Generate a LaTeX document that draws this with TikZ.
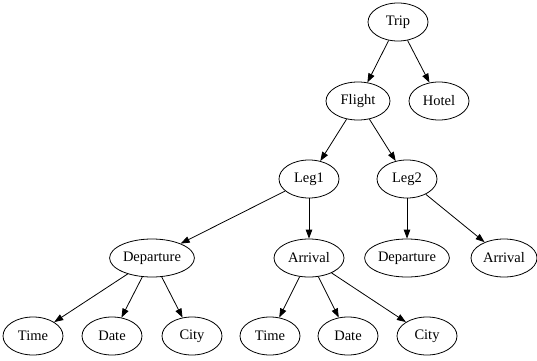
\documentclass[tikz,border=0pt]{standalone}
\usepackage{fontspec}
\setmainfont{Liberation Serif}
\usetikzlibrary{arrows.meta,shapes.geometric}

\begin{document}
\begin{tikzpicture}[
    x=1pt, y=1pt,
    >={Triangle[length=9pt,width=6.5pt]},
    every node/.style={font=\fontsize{14.5}{16}\selectfont},
    treenode/.style={
        ellipse,
        draw=black,
        line width=0.8pt,
        inner xsep=1pt,
        inner ysep=0pt,
        minimum width=60pt,
        minimum height=38pt,
    },
    arr/.style={->,line width=0.8pt,color=black},
]
\useasboundingbox (0,0) rectangle (537,360);

% === Top ===
\node[treenode] (trip) at (398,338) {Trip};
\node[treenode,minimum width=64pt] (flight) at (358,259) {Flight};
\node[treenode] (hotel) at (439,259) {Hotel};

% === Legs ===
\node[treenode] (leg1) at (309,181) {Leg1};
\node[treenode] (leg2) at (407,181) {Leg2};

% === Leg1 children ===
\node[treenode] (dep1) at (152,102) {Departure};
\node[treenode,minimum width=70pt] (arr1) at (309,102) {Arrival};

% === Leg2 children ===
\node[treenode] (dep2) at (407,102) {Departure};
\node[treenode,minimum width=66pt] (arr2) at (504,102) {Arrival};

% === Bottom row ===
\node[treenode] (time1) at (33,24) {Time};
\node[treenode] (date1) at (112,24) {Date};
\node[treenode] (city1) at (192,24) {City};
\node[treenode] (time2) at (270,24) {Time};
\node[treenode] (date2) at (348,24) {Date};
\node[treenode] (city2) at (427,24) {City};

% === Edges ===
\draw[arr] (trip) -- (flight);
\draw[arr] (trip) -- (hotel);
\draw[arr] (flight) -- (leg1);
\draw[arr] (flight) -- (leg2);
\draw[arr] (leg1) -- (dep1);
\draw[arr] (leg1) -- (arr1);
\draw[arr] (leg2) -- (dep2);
\draw[arr] (leg2) -- (arr2);
\draw[arr] (dep1) -- (time1);
\draw[arr] (dep1) -- (date1);
\draw[arr] (dep1) -- (city1);
\draw[arr] (arr1) -- (time2);
\draw[arr] (arr1) -- (date2);
\draw[arr] (arr1) -- (city2);

\end{tikzpicture}
\end{document}
